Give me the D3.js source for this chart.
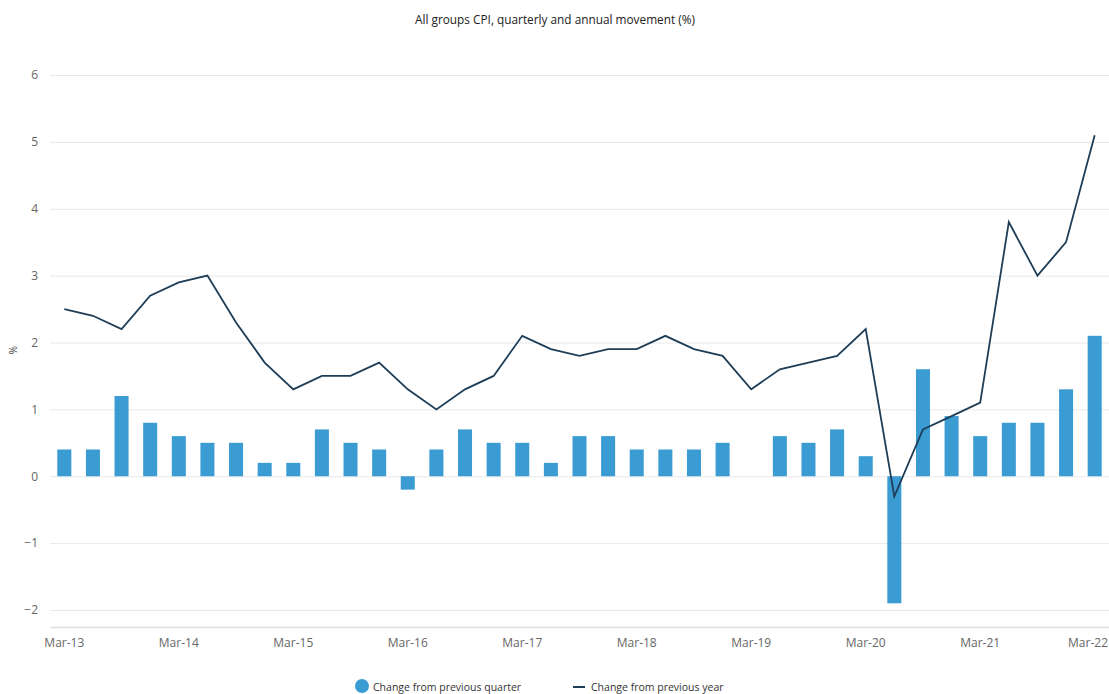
<!DOCTYPE html>
<html><head><meta charset="utf-8">
<script src="https://cdn.jsdelivr.net/npm/d3@7"></script>
<style>body{margin:0;background:#fff}svg{display:block}text{font-family:"Open Sans","Noto Sans",sans-serif}</style>
</head><body><svg id="c" width="1109" height="694"></svg>
<script>
const quarters = ["Mar-13","Jun-13","Sep-13","Dec-13","Mar-14","Jun-14","Sep-14","Dec-14","Mar-15","Jun-15","Sep-15","Dec-15","Mar-16","Jun-16","Sep-16","Dec-16","Mar-17","Jun-17","Sep-17","Dec-17","Mar-18","Jun-18","Sep-18","Dec-18","Mar-19","Jun-19","Sep-19","Dec-19","Mar-20","Jun-20","Sep-20","Dec-20","Mar-21","Jun-21","Sep-21","Dec-21","Mar-22"];
const quarterly = [0.4,0.4,1.2,0.8,0.6,0.5,0.5,0.2,0.2,0.7,0.5,0.4,-0.2,0.4,0.7,0.5,0.5,0.2,0.6,0.6,0.4,0.4,0.4,0.5,0.0,0.6,0.5,0.7,0.3,-1.9,1.6,0.9,0.6,0.8,0.8,1.3,2.1];
const annual = [2.5,2.4,2.2,2.7,2.9,3.0,2.3,1.7,1.3,1.5,1.5,1.7,1.3,1.0,1.3,1.5,2.1,1.9,1.8,1.9,1.9,2.1,1.9,1.8,1.3,1.6,1.7,1.8,2.2,-0.3,0.7,0.9,1.1,3.8,3.0,3.5,5.1];
const xTickLabels = ["Mar-13","Mar-14","Mar-15","Mar-16","Mar-17","Mar-18","Mar-19","Mar-20","Mar-21","Mar-22"];
const yTicks = [-2,-1,0,1,2,3,4,5,6];
const title = "All groups CPI, quarterly and annual movement (%)";
const seriesNames = ["Change from previous quarter","Change from previous year"];

const svg = d3.select("#c");
const barColor = "#3b9bd3", lineColor = "#1e3d57";
const left = 50, right = 1109;
const x = d3.scaleBand().domain(quarters).range([left, right]).paddingInner(0.51).paddingOuter(0.255);
const y = d3.scaleLinear().domain([-2, 6]).range([610, 75]);

svg.append("text").attr("x", 555).attr("y", 24).attr("text-anchor", "middle")
  .attr("font-size", 12.5).attr("fill", "#222").attr("textLength", 280).attr("lengthAdjust","spacingAndGlyphs").text(title);

// grid
const yAxis = d3.axisLeft(y).tickValues(yTicks).tickSize(-(right - left)).tickFormat(d3.format("d"));
const gy = svg.append("g").attr("transform", `translate(${left},0)`).call(yAxis);
gy.select(".domain").remove();
gy.selectAll(".tick line").attr("stroke", "#e8e8e8").attr("stroke-width", 1);
gy.selectAll(".tick text").attr("x", -12).attr("font-size", 12).attr("fill", "#666").attr("font-family", "'Open Sans',sans-serif");

svg.append("text").attr("transform", "translate(17,350) rotate(-90)").attr("text-anchor","middle")
  .attr("font-size", 10).attr("fill", "#444").text("%");

// bottom axis
const gx = svg.append("g").attr("transform", "translate(0,627)")
  .call(d3.axisBottom(x).tickValues(xTickLabels).tickSize(0).tickPadding(11));
gx.select(".domain").attr("stroke", "#ddd").attr("stroke-width", 1.5);
gx.selectAll(".tick text").attr("font-size", 12).attr("fill", "#666").attr("font-family", "'Open Sans',sans-serif");
// keep the last label inside the frame
gx.selectAll(".tick").filter(d => d === "Mar-22").select("text")
  .attr("text-anchor", "end").attr("x", function () {
    const cx = x("Mar-22") + x.bandwidth() / 2;
    return (1108 - cx);
  });

// bars
svg.append("g").selectAll("rect").data(quarterly).join("rect")
  .attr("x", (d, i) => x(quarters[i]))
  .attr("width", x.bandwidth())
  .attr("y", d => y(Math.max(0, d)))
  .attr("height", d => Math.abs(y(d) - y(0)))
  .attr("fill", barColor);

// line
const line = d3.line().x((d, i) => x(quarters[i]) + x.bandwidth() / 2).y(d => y(d));
svg.append("path").datum(annual).attr("d", line).attr("fill", "none")
  .attr("stroke", lineColor).attr("stroke-width", 1.8).attr("stroke-linejoin", "miter");

// legend
const lg = svg.append("g");
lg.append("circle").attr("cx", 362).attr("cy", 686).attr("r", 7).attr("fill", barColor);
lg.append("text").attr("x", 373).attr("y", 691).attr("font-size", 10.5).attr("fill", "#333").text(seriesNames[0]);
lg.append("line").attr("x1", 573).attr("x2", 585).attr("y1", 687).attr("y2", 687).attr("stroke", lineColor).attr("stroke-width", 2);
lg.append("text").attr("x", 591).attr("y", 691).attr("font-size", 10.5).attr("fill", "#333").text(seriesNames[1]);
</script></body></html>
